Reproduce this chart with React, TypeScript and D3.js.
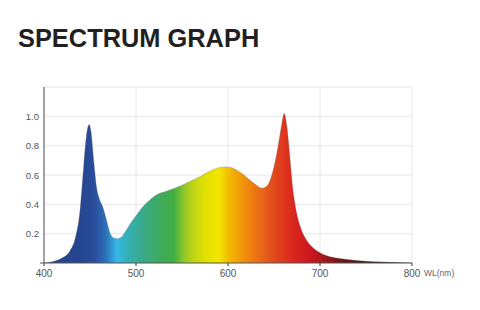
import React from "react";
import * as d3 from "d3";

const wavelengths = [400, 410, 420, 428, 434, 439, 443, 446, 449, 451, 454, 457, 460, 464, 468, 472, 476, 480, 484, 488, 494, 500, 507, 515, 524, 533, 542, 550, 560, 570, 580, 590, 598, 606, 614, 622, 630, 637, 643, 649, 654, 658, 661, 664, 667, 670, 674, 679, 686, 693, 700, 710, 720, 735, 750, 770, 800];
const intensity = [0.0, 0.01, 0.035, 0.08, 0.17, 0.35, 0.65, 0.86, 0.945, 0.9, 0.7, 0.52, 0.44, 0.38, 0.29, 0.2, 0.17, 0.165, 0.175, 0.21, 0.27, 0.32, 0.38, 0.43, 0.47, 0.49, 0.51, 0.53, 0.56, 0.59, 0.625, 0.65, 0.655, 0.645, 0.615, 0.575, 0.535, 0.51, 0.53, 0.63, 0.78, 0.93, 1.02, 0.93, 0.74, 0.53, 0.36, 0.24, 0.15, 0.1, 0.07, 0.045, 0.032, 0.02, 0.012, 0.006, 0.0];

const colorStopsWl = [400, 440, 455, 467, 479, 490, 502, 515, 530, 542, 552, 560, 575, 590, 602, 614, 625, 637, 648, 662, 675, 690, 705, 725, 760, 800];
const colorStops = ["#24428f", "#25468f", "#2a4e9e", "#2c6fb8", "#35b8e8", "#34b0b8", "#38ab98", "#3caa78", "#3eaa55", "#44af43", "#8ec62a", "#b8d21a", "#e2e000", "#f2e600", "#f3b700", "#f19a0a", "#ee8010", "#e8661a", "#e34e1c", "#dd341c", "#d8221c", "#cc1620", "#a01a1a", "#6a1414", "#3a1414", "#2a2a2a"];

const xTicks = [400, 500, 600, 700, 800];
const yTicks = [0.2, 0.4, 0.6, 0.8, 1.0];
const title = "SPECTRUM GRAPH";
const xUnit = "WL(nm)";

export default function App() {
  const W = 480, H = 310;
  const x = d3.scaleLinear().domain([400, 800]).range([44, 412]);
  const y = d3.scaleLinear().domain([0, 1.2]).range([263, 87]);
  const pts = wavelengths.map((w, i) => [w, intensity[i]] as [number, number]);
  const area = d3.area<[number, number]>()
    .x(d => x(d[0]))
    .y0(y(0))
    .y1(d => y(d[1]))
    .curve(d3.curveMonotoneX);
  const line = d3.line<[number, number]>()
    .x(d => x(d[0]))
    .y(d => y(d[1]))
    .curve(d3.curveMonotoneX);
  const font = "'Liberation Sans', Arial, sans-serif";
  return (
    <svg width={W} height={H} style={{ position: "absolute", left: 0, top: 0, background: "#fff" }}>
      <defs>
        <linearGradient id="spec" gradientUnits="userSpaceOnUse" x1={x(400)} x2={x(800)} y1={0} y2={0}>
          {colorStopsWl.map((w, i) => (
            <stop key={i} offset={(w - 400) / 400} stopColor={colorStops[i]} />
          ))}
        </linearGradient>
      </defs>
      <text x={18} y={47} fontFamily={font} fontWeight="bold" fontSize={25.4} fill="#231f20">{title}</text>
      {[...yTicks, 1.2].map(t => (
        <line key={"gy" + t} x1={x(400)} x2={x(800)} y1={y(t)} y2={y(t)} stroke="#e8e8e8" strokeWidth={1} />
      ))}
      {xTicks.slice(1).map(t => (
        <line key={"gx" + t} x1={x(t)} x2={x(t)} y1={y(1.2)} y2={y(0)} stroke="#e8e8e8" strokeWidth={1} />
      ))}
      <path d={area(pts) || ""} fill="url(#spec)" />
      <path d={line(pts) || ""} fill="none" stroke="rgba(90,90,90,0.35)" strokeWidth={0.8} />
      <line x1={x(400)} x2={x(400)} y1={y(1.2)} y2={y(0)} stroke="#666" strokeWidth={1.2} />
      <line x1={40} x2={x(800)} y1={y(0)} y2={y(0)} stroke="#555" strokeWidth={1.2} />
      {xTicks.map(t => (
        <g key={"xt" + t}>
          <line x1={x(t)} x2={x(t)} y1={y(0)} y2={y(0) + 3} stroke="#555" strokeWidth={1.2} />
          <text x={x(t)} y={277} textAnchor="middle" fontFamily={font} fontSize={10} fill="#555">{t}</text>
        </g>
      ))}
      <text x={x(800) + 12} y={276} fontFamily={font} fontSize={8.5} fill="#666">{xUnit}</text>
      {yTicks.map(t => (
        <text key={"yt" + t} x={39} y={y(t) + 3.5} textAnchor="end" fontFamily={font} fontSize={9.5} fill="#555">{t.toFixed(1)}</text>
      ))}
    </svg>
  );
}
